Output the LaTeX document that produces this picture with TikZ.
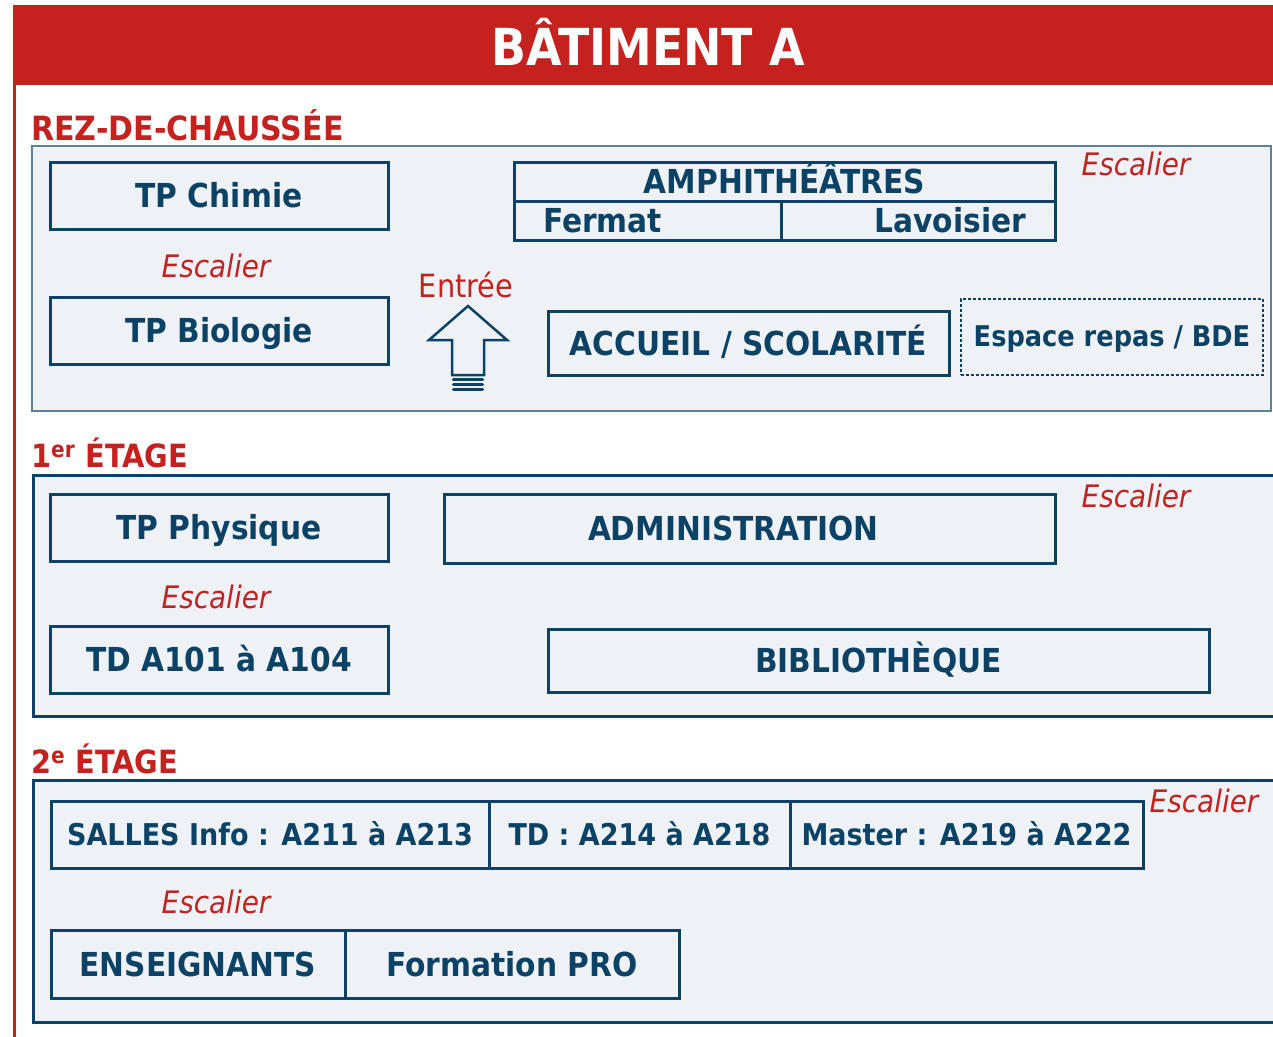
\documentclass[tikz,border=0pt]{standalone}
\usepackage{fontspec}
\setmainfont{DejaVu Sans}[FakeStretch=0.9]
\usetikzlibrary{shapes.geometric}
\usepackage{xcolor}
\definecolor{batred}{HTML}{C5211F}
\definecolor{batblue}{HTML}{0C4266}
\definecolor{batpanel}{HTML}{EEF2F6}
\definecolor{batgrey}{HTML}{5E8098}

\begin{document}
\begin{tikzpicture}[x=1pt,y=-1pt]
\tikzstyle{room} = [rectangle, draw=batblue, line width=3pt, fill=batpanel,
text=batblue, font=\fontsize{33}{36}\selectfont\bfseries, inner sep=0pt,
text height=24pt, text depth=0pt]
\tikzstyle{smallroom} = [room, font=\fontsize{30}{34}\selectfont\bfseries, text height=22pt]
\tikzstyle{floor} = [anchor=base west, inner sep=0pt, text=batred,
font=\fontsize{32}{36}\selectfont\bfseries]
\tikzstyle{stair} = [anchor=base, inner sep=0pt, text=batred,
font=\fontsize{31}{34}\selectfont\itshape]
\tikzstyle{panel} = [draw=batblue, line width=3pt, fill=batpanel]

\useasboundingbox (0,0) rectangle (1273,1036);
\fill [white] (0,0) rectangle (1273,1036);

% title
\fill [batred] (13,5) rectangle (1280,85);
\draw [batred, line width=3pt] (14.5,84) -- (14.5,1040);
\node [anchor=base, inner sep=0pt, text=white, font=\fontsize{51}{56}\selectfont\bfseries]
  (title) at (648,65) {BÂTIMENT A};

% rez-de-chaussee
\node [floor, font=\fontsize{33.4}{36}\selectfont\bfseries] (rdc) at (31,140) {REZ-DE-CHAUSSÉE};
\draw [panel, draw=batgrey, line width=2pt] (32,146) rectangle (1271,411);
\node [room, minimum width=338pt, minimum height=67pt] (chimie) at (219,195.5) {TP Chimie};
\node [stair] (esc1) at (216,277) {Escalier};
\node [room, minimum width=338pt, minimum height=67pt] (biologie) at (219,330.5) {TP Biologie};
\node [room, minimum width=541pt, minimum height=39pt] (amphi) at (784.5,181.5) {AMPHITHÉÂTRES};
\node [room, minimum height=39pt, inner xsep=29pt, text width=209pt, align=left]
  (fermat) at (647.5,220.5) {Fermat};
\node [room, minimum height=39pt, inner xsep=29pt, text width=216pt, align=right]
  (lavoisier) at (918,220.5) {Lavoisier};
\node [stair] (esc2) at (1136,175) {Escalier};
\node [anchor=base, inner sep=0pt, text=batred, font=\fontsize{32}{36}\selectfont]
  (entree) at (466,297) {Entrée};
\filldraw [fill=batpanel, draw=batblue, line width=2.5pt, line join=miter]
  (468,306) -- (507,340) -- (484,340) -- (484,375) -- (452,375) -- (452,340) -- (429,340) -- cycle;
\foreach \y in {379.5,384.5,389.5}
  \draw [batblue, line width=3.5pt, line cap=round] (453.5,\y) -- (482.5,\y);
\node [room, minimum width=401pt, minimum height=64pt] (accueil) at (748.5,343) {ACCUEIL / SCOLARITÉ};
\node [room, dotted, line width=2pt, minimum width=302pt, minimum height=76pt,
  font=\fontsize{28.5}{32}\selectfont\bfseries, text height=20.5pt] (repas) at (1112,336.5) {Espace repas / BDE};

% 1er etage
\node [floor] (etage1) at (31,467) {1\textsuperscript{er} ÉTAGE};
\draw [panel] (33,475) rectangle (1285,716);
\node [room, minimum width=338pt, minimum height=67pt] (physique) at (219,527.5) {TP Physique};
\node [stair] (esc3) at (216,608) {Escalier};
\node [room, minimum width=338pt, minimum height=67pt] (tdsalles) at (219,659.5) {TD A101 à A104};
\node [room, minimum height=69pt, inner xsep=144pt, text width=323pt, align=left]
  (admin) at (749.5,528.5) {ADMINISTRATION};
\node [stair] (esc4) at (1136,507) {Escalier};
\node [room, minimum width=661pt, minimum height=63pt] (biblio) at (878.5,660.5) {BIBLIOTHÈQUE};

% 2e etage
\node [floor] (etage2) at (31,773) {2\textsuperscript{e} ÉTAGE};
\draw [panel] (33,780) rectangle (1285,1022);
% row 1
\node [smallroom, minimum width=438pt, minimum height=67pt] (info) at (270,834.5) {SALLES Info : A211 à A213};
\node [smallroom, minimum width=301pt, minimum height=67pt] (td2) at (639.5,834.5) {TD : A214 à A218};
\node [smallroom, minimum width=353pt, minimum height=67pt] (master) at (966.5,834.5) {Master : A219 à A222};
\node [stair] (esc5) at (1204,812) {Escalier};
\node [stair] (esc6) at (216,913) {Escalier};
% row 2
\node [room, minimum width=294pt, minimum height=68pt] (profs) at (198,964) {ENSEIGNANTS};
\node [room, minimum width=334pt, minimum height=68pt] (pro) at (512,964) {Formation PRO};

\end{tikzpicture}
\end{document}
